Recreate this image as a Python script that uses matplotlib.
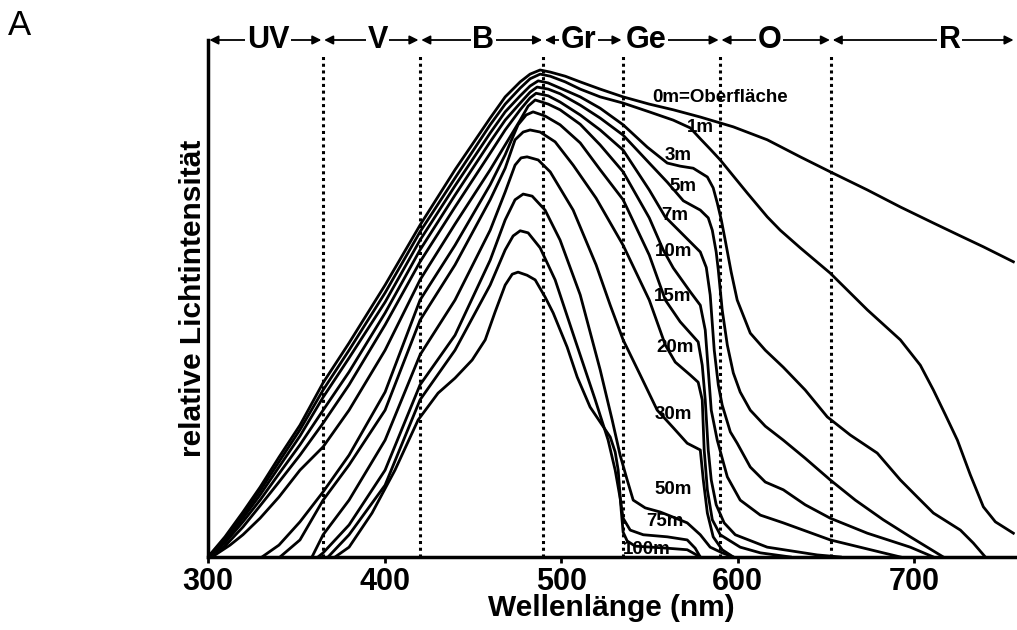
import matplotlib
matplotlib.use("Agg")
import matplotlib.pyplot as plt

plt.rcParams['font.family'] = ['Liberation Sans', 'DejaVu Sans']

# spectral bands (nm)
band_names = ['UV', 'V', 'B', 'Gr', 'Ge', 'O', 'R']
band_edges = [300, 365, 420, 490, 535, 590, 653, 757]
band_label_x = [334, 396, 456, 510, 548, 618, 720]
dotted_x = [365, 420, 490, 535, 590, 653]

# relative intensity (0..100 = full axis height) per depth
wl_0m = [300, 309.6, 319.8, 329.5, 340.2, 352.1, 365.2, 379.9, 400.3, 420.1, 439.9, 459.8, 468.3, 476.8, 482.4, 488.1,
         493.8, 502.3, 510.8, 522.1, 535.1, 549.9, 563.5, 578.8, 597.5, 616.7, 635.4, 652.4, 673.4, 692.1, 710.8, 726.1,
         739.1, 756.1]
int_0m = [0, 3.9, 8.7, 13.5, 19.3, 25.5, 33.7, 41.4, 52.6, 64.2, 74.9, 84.9, 89.0, 91.9, 93.4, 94.2,
          93.8, 93.0, 91.9, 90.5, 89.0, 87.6, 86.5, 85.1, 83.2, 80.7, 77.4, 74.5, 71.0, 67.7, 64.6, 62.1,
          60.0, 57.1]

wl_1m = [300, 309.6, 319.8, 329.5, 340.2, 352.1, 365.2, 379.9, 400.3, 420.1, 439.9, 459.8, 468.3, 476.8, 482.4, 488.1,
         493.8, 502.3, 510.8, 522.1, 535.1, 549.9, 563.5, 573.1, 578.8, 584.4, 590.1, 597.5, 605.4, 616.7, 624.1, 635.4,
         652.4, 673.4, 692.1, 703.4, 710.8, 717.6, 724.4, 731.7, 739.1, 745.9, 756.1]
int_1m = [0, 3.5, 8.1, 12.8, 18.4, 24.6, 32.3, 40.0, 51.1, 62.9, 73.3, 83.6, 87.6, 90.7, 92.5, 93.4,
          93.0, 91.9, 90.5, 89.0, 87.8, 86.1, 84.5, 83.0, 80.9, 78.9, 76.8, 73.7, 70.4, 65.8, 63.2, 59.8,
          54.9, 47.8, 42.0, 37.1, 32.3, 27.5, 22.6, 15.9, 9.7, 6.8, 4.6]

wl_3m = [300, 309.6, 319.8, 329.5, 340.2, 352.1, 365.2, 379.9, 400.3, 420.1, 439.9, 459.8, 468.3, 476.8, 482.4, 487.0,
         492.6, 499.4, 510.8, 522.1, 535.1, 548.7, 560.1, 567.4, 574.8, 582.8, 586.1, 588.4, 590.7, 592.9, 596.3, 599.7,
         607.1, 615.6, 625.8, 638.2, 650.7, 663.7, 679.0, 692.1, 701.7, 710.8, 726.1, 733.4, 740.2]
int_3m = [0, 3.1, 7.5, 12.0, 17.4, 23.4, 30.9, 38.5, 49.3, 61.3, 71.8, 82.0, 86.1, 89.2, 91.1, 92.1,
          91.7, 90.7, 89.0, 86.8, 83.6, 79.3, 76.2, 75.6, 75.2, 73.5, 71.4, 68.5, 65.2, 61.3, 55.1, 49.7,
          43.3, 40.0, 36.7, 32.3, 27.1, 23.6, 20.1, 14.9, 11.6, 8.5, 5.2, 2.7, 0]

wl_5m = [300, 309.6, 319.8, 329.5, 340.2, 352.1, 365.2, 379.9, 400.3, 420.1, 439.9, 459.8, 468.3, 476.8, 482.4, 486.4,
         492.7, 499.4, 510.8, 522.1, 535.1, 549.9, 560.1, 569.2, 578.8, 583.3, 585.6, 587.8, 589.0, 591.2, 594.1, 597.5,
         601.4, 607.1, 615.6, 625.8, 638.2, 652.4, 666.6, 682.4, 697.7, 716.4]
int_5m = [0, 2.7, 6.8, 11.0, 16.1, 21.7, 28.4, 35.8, 47.2, 59.4, 70.0, 80.3, 84.5, 87.8, 89.9, 90.9,
          90.5, 89.6, 87.4, 84.9, 81.6, 76.2, 72.5, 68.9, 67.1, 65.6, 63.2, 59.0, 55.5, 47.8, 41.0, 35.6,
          31.9, 28.4, 25.3, 22.6, 19.1, 14.9, 11.0, 7.2, 3.9, 0]

wl_7m = [300, 309.6, 319.8, 329.5, 340.2, 352.1, 365.2, 379.9, 400.3, 420.1, 439.9, 459.8, 468.3, 476.8, 482.4, 485.8,
         492.7, 499.4, 510.8, 522.1, 535.1, 549.9, 558.9, 567.4, 578.8, 582.2, 584.4, 586.7, 589.0, 591.2, 595.8, 599.7,
         607.1, 615.6, 625.8, 638.2, 652.4, 673.4, 697.7, 710.8]
int_7m = [0, 2.1, 5.8, 9.9, 14.5, 19.7, 25.9, 33.3, 44.9, 57.1, 67.7, 78.1, 82.6, 86.5, 88.8, 89.7,
          89.2, 88.0, 85.5, 82.6, 78.7, 71.0, 65.8, 62.9, 59.0, 56.0, 50.7, 40.0, 33.3, 29.4, 24.2, 22.0,
          17.4, 14.5, 13.0, 10.1, 7.5, 4.6, 1.9, 0]

wl_10m = [302.3, 312.5, 319.8, 329.5, 340.2, 352.1, 365.2, 379.9, 400.3, 420.1, 439.9, 459.8, 468.3, 476.8, 481.3,
          485.3, 492.7, 499.4, 510.8, 522.1, 535.1, 549.9, 557.8, 563.5, 573.1, 578.8, 581.6, 583.3, 585.0, 588.4,
          594.1, 601.4, 612.8, 625.8, 652.4, 682.4, 692.1]
int_10m = [0, 2.3, 4.3, 7.5, 11.6, 16.8, 21.3, 28.4, 40.0, 53.6, 64.4, 74.9, 79.7, 84.5, 87.2,
           88.4, 87.6, 86.5, 83.7, 79.7, 74.5, 65.6, 59.4, 55.9, 51.3, 48.7, 43.9, 36.2, 28.4, 22.6,
           15.5, 11.0, 8.1, 6.6, 3.3, 0.8, 0]

wl_15m = [330.6, 340.2, 352.1, 365.2, 379.9, 400.3, 420.1, 439.9, 459.8, 468.3, 475.6, 480.2, 484.1, 490.9, 499.4,
          510.8, 522.1, 535.1, 549.9, 559.0, 567.4, 577.6, 579.9, 581.6, 583.3, 585.0, 587.8, 592.3, 598.6, 616.7,
          645.0, 658.1]
int_15m = [0, 2.3, 6.8, 12.6, 19.7, 31.9, 49.7, 60.3, 72.0, 77.8, 83.6, 85.5, 86.1, 85.3, 83.6,
           80.1, 74.9, 69.1, 58.4, 49.7, 45.5, 41.6, 37.1, 30.4, 20.7, 14.9, 10.1, 6.6, 4.3, 1.9,
           0.4, 0]

wl_20m = [340.8, 352.1, 365.2, 379.9, 400.3, 420.1, 439.9, 459.8, 468.3, 473.9, 478.5, 482.4, 488.1, 496.6, 506.8,
          519.8, 535.1, 549.9, 559.0, 564.6, 573.1, 577.6, 579.9, 581.0, 582.8, 585.6, 590.1, 601.4, 612.8, 629.8]
int_20m = [0, 3.3, 11.0, 17.8, 28.4, 45.8, 56.5, 69.1, 75.2, 80.7, 82.2, 82.6, 82.2, 80.3, 75.8,
           69.4, 60.3, 49.7, 41.0, 37.7, 35.2, 33.8, 30.4, 20.7, 13.0, 7.2, 4.3, 1.9, 0.8, 0]

wl_30m = [358.9, 365.2, 379.9, 400.3, 420.1, 439.9, 459.8, 468.3, 473.9, 477.3, 480.7, 487.0, 493.8, 506.8, 519.8,
          527.8, 535.1, 544.8, 554.4, 563.5, 571.4, 578.8, 580.5, 582.8, 586.1, 591.2, 597.5]
int_30m = [0, 4.3, 11.0, 22.6, 39.1, 49.7, 63.2, 70.6, 75.8, 77.2, 77.4, 76.8, 74.5, 67.1, 56.5,
           48.7, 42.0, 35.2, 28.4, 25.0, 22.0, 20.7, 14.9, 8.5, 3.9, 1.4, 0]

wl_50m = [362.3, 365.2, 379.9, 400.3, 420.1, 439.9, 459.8, 468.3, 473.9, 478.5, 483.6, 490.9, 499.4, 510.8, 522.1,
          528.9, 533.4, 537.4, 540.8, 547.6, 556.1, 563.5, 571.4, 578.8, 584.4, 591.2, 597.5]
int_50m = [0, 0.8, 6.2, 16.8, 33.3, 42.9, 57.4, 65.2, 69.1, 70.2, 69.8, 67.1, 61.3, 50.7, 36.2,
           26.5, 19.7, 14.9, 11.0, 9.5, 8.7, 7.7, 6.6, 4.3, 1.9, 0.8, 0]

wl_75m = [368.0, 379.9, 400.3, 420.1, 439.9, 459.8, 468.3, 472.8, 476.8, 481.3, 488.1, 496.6, 507.9, 519.3, 526.6,
          530.6, 533.4, 535.1, 539.1, 546.5, 560.1, 571.4, 575.9, 578.8]
int_75m = [0, 4.3, 13.9, 30.4, 40.0, 52.6, 59.4, 62.1, 63.1, 62.7, 59.8, 53.6, 42.0, 30.4, 22.6,
           16.8, 11.4, 7.5, 5.2, 4.3, 3.9, 3.3, 1.7, 0]

wl_100m = [372.0, 379.9, 392.9, 405.9, 419.0, 430.3, 439.9, 449.6, 457.0, 462.6, 468.3, 472.3, 475.6, 480.7, 485.3,
           490.9, 495.5, 503.4, 509.1, 516.4, 522.1, 527.8, 530.6, 532.3, 534.0, 535.1, 537.4, 541.9, 560.1, 571.4,
           578.8]
int_100m = [0, 1.9, 8.5, 16.8, 26.5, 31.7, 34.6, 38.1, 42.0, 47.4, 52.6, 54.7, 55.1, 54.5, 53.6,
            50.3, 47.2, 40.6, 34.8, 29.0, 26.1, 23.2, 20.3, 16.8, 9.1, 4.8, 3.1, 2.1, 1.7, 1.4,
            0]

curves = [
    (wl_0m, int_0m), (wl_1m, int_1m), (wl_3m, int_3m), (wl_5m, int_5m),
    (wl_7m, int_7m), (wl_10m, int_10m), (wl_15m, int_15m), (wl_20m, int_20m),
    (wl_30m, int_30m), (wl_50m, int_50m), (wl_75m, int_75m), (wl_100m, int_100m),
]

label_text = ['0m=Oberfläche', '1m', '3m', '5m', '7m', '10m', '15m', '20m', '30m', '50m', '75m', '100m']
label_x = [590.1, 578.8, 566.3, 569.2, 564.6, 563.5, 562.9, 564.6, 563.5, 563.5, 558.9, 548.7]
label_y = [88.8, 83.0, 77.7, 71.6, 66.1, 59.0, 50.3, 40.6, 27.5, 13.0, 6.8, 1.4]

fig = plt.figure(figsize=(10.17, 6.3), dpi=100)
ax = fig.add_axes([0.2045, 0.1159, 0.7935, 0.8206])

for wl, inten in curves:
    ax.plot(wl, inten, color='black', lw=2.0, solid_joinstyle='round')

for x in dotted_x:
    ax.plot([x, x], [0, 97.5], color='black', lw=2.2, linestyle=(0, (1, 1.2)))

for t, x, y in zip(label_text, label_x, label_y):
    ax.text(x, y, t, ha='center', va='center', fontsize=13.5, fontweight='bold')

# band arrows on top
for i, name in enumerate(band_names):
    a, b = band_edges[i], band_edges[i + 1]
    c = band_label_x[i]
    for end in (a, b):
        ax.annotate('', xy=(end, 100), xytext=(c, 100),
                    arrowprops=dict(arrowstyle='-|>', color='black', lw=1.3,
                                    mutation_scale=13, shrinkA=0, shrinkB=1),
                    annotation_clip=False)
    ax.text(c, 100, name, ha='center', va='center', fontsize=22, fontweight='bold',
            bbox=dict(facecolor='white', edgecolor='none', pad=1), clip_on=False)

ax.set_xlim(300, 757)
ax.set_ylim(0, 100)
ax.spines['top'].set_visible(False)
ax.spines['right'].set_visible(False)
ax.spines['left'].set_linewidth(2.5)
ax.spines['bottom'].set_linewidth(2.5)
ax.set_yticks([])
ax.set_xticks([300, 400, 500, 600, 700])
ax.tick_params(axis='x', direction='out', length=4, width=2, labelsize=22, pad=3)
for lab in ax.get_xticklabels():
    lab.set_fontweight('bold')
ax.set_xlabel('Wellenlänge (nm)', fontsize=21.5, fontweight='bold', labelpad=-2)
ax.set_ylabel('relative Lichtintensität', fontsize=21.5, fontweight='bold', labelpad=1)

fig.text(0.008, 0.985, 'A', fontsize=25, ha='left', va='top')

fig.savefig('out.png', dpi=100)
